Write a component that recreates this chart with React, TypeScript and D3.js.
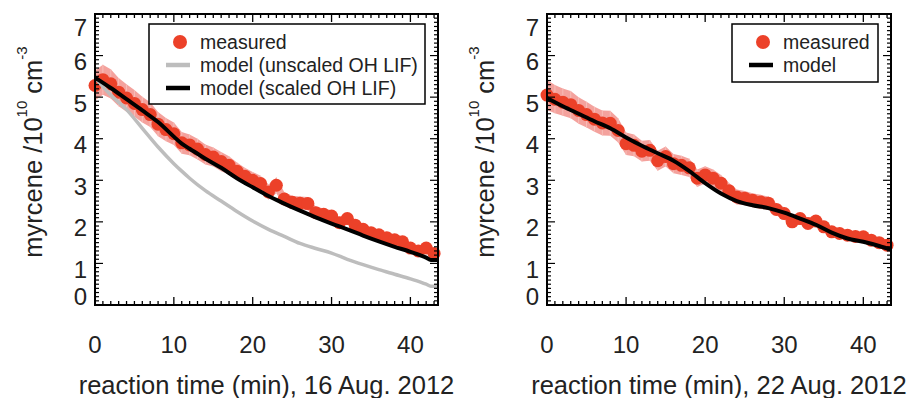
import React from "react";
import * as d3 from "d3";

// ---------- data ----------
const X_TICKS = [0, 10, 20, 30, 40];
const Y_TICKS = [0, 1, 2, 3, 4, 5, 6, 7];

const aug16MeasuredTime = [0,1,2,3,4,5,6,7,8,9,10,11,12,13,14,15,16,17,18,19,20,21,22,23,24,25,26,27,28,29,30,31,32,33,34,35,36,37,38,39,40,41,42,43];
const aug16MeasuredValue = [5.28,5.42,5.32,5.12,4.98,4.85,4.7,4.58,4.35,4.22,4.12,3.9,3.85,3.75,3.62,3.56,3.45,3.36,3.22,3.1,3.0,2.92,2.72,2.88,2.55,2.47,2.45,2.44,2.22,2.18,2.14,1.98,2.08,1.92,1.82,1.74,1.69,1.62,1.57,1.52,1.37,1.3,1.37,1.24];
const aug16MeasuredErr = [0.36,0.36,0.35,0.34,0.33,0.32,0.31,0.3,0.29,0.28,0.27,0.26,0.25,0.25,0.24,0.23,0.23,0.22,0.21,0.2,0.2,0.19,0.18,0.19,0.17,0.16,0.16,0.16,0.15,0.14,0.14,0.13,0.14,0.13,0.12,0.11,0.11,0.11,0.1,0.1,0.09,0.09,0.09,0.08];

const aug16ModelTime = [0,2,4,6,8,10,11,12,14,16,18,20,22,24,26,28,30,32,34,36,38,40,42,42.6,43.5];
const aug16ModelScaled = [5.47,5.22,4.95,4.68,4.4,4.05,3.88,3.76,3.52,3.3,3.05,2.83,2.62,2.44,2.27,2.11,1.96,1.82,1.67,1.53,1.4,1.28,1.14,1.08,1.08];
const aug16ModelUnscaled = [5.47,5.05,4.7,4.25,3.8,3.4,3.22,3.05,2.75,2.5,2.25,2.02,1.82,1.65,1.48,1.36,1.25,1.1,0.97,0.85,0.74,0.63,0.5,0.45,0.45];

const aug22MeasuredTime = [0,1,2,3,4,5,6,7,8,9,10,11,12,13,14,15,16,17,18,19,20,21,22,23,24,25,26,27,28,29,30,31,32,33,34,35,36,37,38,39,40,41,42,43];
const aug22MeasuredValue = [5.05,4.95,4.88,4.82,4.68,4.58,4.47,4.38,4.37,4.2,3.88,3.84,3.7,3.72,3.47,3.57,3.4,3.36,3.3,3.05,3.13,3.05,2.93,2.75,2.6,2.57,2.52,2.48,2.45,2.3,2.2,2.0,2.08,1.96,2.02,1.88,1.76,1.72,1.68,1.65,1.64,1.56,1.5,1.44];
const aug22MeasuredErr = [0.36,0.34,0.33,0.33,0.32,0.31,0.3,0.3,0.3,0.29,0.27,0.26,0.25,0.25,0.24,0.24,0.23,0.23,0.22,0.21,0.21,0.21,0.2,0.19,0.18,0.17,0.17,0.17,0.16,0.15,0.15,0.14,0.14,0.13,0.14,0.13,0.12,0.12,0.11,0.11,0.11,0.1,0.1,0.1];

const aug22ModelTime = [0,2,4,6,8,10,12,14,16,18,20,22,24,26,28,30,32,34,36,38,40,42,43.5];
const aug22Model = [4.98,4.78,4.6,4.42,4.25,4.03,3.83,3.65,3.47,3.22,2.93,2.68,2.5,2.4,2.33,2.22,2.08,1.93,1.74,1.6,1.52,1.42,1.33];

const LEFT_TITLE = "reaction time (min), 16 Aug. 2012";
const RIGHT_TITLE = "reaction time (min), 22 Aug. 2012";

// ---------- styles ----------
const FONT = "'Liberation Sans', Arial, Helvetica, sans-serif";
const RED = "#ec4129";
const BAND = "#f4a29d";
const GREY = "#bdbdbd";

type LegendItem = { label: string; kind: "dot" | "line"; color: string };

type PanelProps = {
  left: number;
  right: number;
  title: string;
  mTime: number[];
  mValue: number[];
  mErr: number[];
  models: { time: number[]; value: number[]; color: string; width: number }[];
  legend: LegendItem[];
  legendBox: { x: number; y: number; w: number; h: number };
};

const TOP = 14;
const BOTTOM = 305;

function Panel(p: PanelProps) {
  const x = d3.scaleLinear().domain([0, 43.5]).range([p.left, p.right]);
  const y = d3.scaleLinear().domain([0, 7]).range([BOTTOM, TOP]);

  const pts = p.mTime.map((t, i) => ({ t, v: p.mValue[i], e: p.mErr[i] }));
  const area = d3
    .area<{ t: number; v: number; e: number }>()
    .x((d) => x(d.t))
    .y0((d) => y(d.v - d.e))
    .y1((d) => y(d.v + d.e));
  const line = d3
    .line<[number, number]>()
    .x((d) => x(d[0]))
    .y((d) => y(d[1]))
    .curve(d3.curveMonotoneX);

  const xMinor = d3.range(0, 43.5, 1);
  const yMinor = d3.range(0, 70, 1).map((k) => k / 10);

  const labelY = (v: number) => {
    const yy = y(v) + 6;
    return Math.max(TOP + 13, Math.min(BOTTOM - 9, yy));
  };

  const cx = (p.left + p.right) / 2;

  return (
    <g>
      <path d={area(pts) || ""} fill={BAND} stroke="none" />
      {pts.map((d, i) => (
        <line key={"eb" + i} x1={x(d.t)} x2={x(d.t)} y1={y(d.v - d.e)} y2={y(d.v + d.e)} stroke="#f7bdb8" strokeWidth={1} />
      ))}
      {pts.map((d, i) => (
        <circle key={"pt" + i} cx={x(d.t)} cy={y(d.v)} r={6.5} fill={RED} />
      ))}
      {p.models.map((m, k) => (
        <path
          key={"m" + k}
          d={line(m.time.map((t, i) => [t, m.value[i]] as [number, number])) || ""}
          fill="none"
          stroke={m.color}
          strokeWidth={m.width}
          strokeLinejoin="round"
        />
      ))}

      {/* frame */}
      <rect x={p.left} y={TOP} width={p.right - p.left} height={BOTTOM - TOP} fill="none" stroke="#000" strokeWidth={2} />
      {xMinor.map((t) => {
        const major = X_TICKS.includes(t);
        const len = major ? 8 : 4;
        return (
          <g key={"xt" + t}>
            <line x1={x(t)} x2={x(t)} y1={BOTTOM} y2={BOTTOM - len} stroke="#000" strokeWidth={1.3} />
            <line x1={x(t)} x2={x(t)} y1={TOP} y2={TOP + len} stroke="#000" strokeWidth={1.3} />
          </g>
        );
      })}
      {yMinor.map((v, k) => {
        const major = k % 10 === 0;
        const len = major ? 8 : 4;
        return (
          <g key={"yt" + k}>
            <line x1={p.left} x2={p.left + len} y1={y(v)} y2={y(v)} stroke="#000" strokeWidth={1.2} />
            <line x1={p.right} x2={p.right - len} y1={y(v)} y2={y(v)} stroke="#000" strokeWidth={1.2} />
          </g>
        );
      })}
      {X_TICKS.map((t) => (
        <text key={"xl" + t} x={x(t)} y={353} textAnchor="middle" fontSize={24} fontFamily={FONT} fill="#222">
          {t}
        </text>
      ))}
      {Y_TICKS.map((v) => (
        <text
          key={"yl" + v}
          x={p.left - 8}
          y={labelY(v)}
          textAnchor="end"
          dominantBaseline="central"
          fontSize={24}
          fontFamily={FONT}
          fill="#222"
        >
          {v}
        </text>
      ))}
      <text x={cx} y={394} textAnchor="middle" fontSize={25.5} fontFamily={FONT} fill="#222">
        {p.title}
      </text>
      <text
        transform={`translate(${p.left - 53},${152}) rotate(-90)`}
        textAnchor="middle"
        fontSize={25.5}
        fontFamily={FONT}
        fill="#222"
      >
        <tspan>myrcene /10</tspan>
        <tspan fontSize={15} dy={-15}>10</tspan>
        <tspan dy={15}> cm</tspan>
        <tspan fontSize={15} dy={-15}>-3</tspan>
      </text>

      {/* legend */}
      <rect x={p.legendBox.x} y={p.legendBox.y} width={p.legendBox.w} height={p.legendBox.h} fill="#fff" stroke="#000" strokeWidth={1.5} />
      {p.legend.map((it, i) => {
        const ry = p.legendBox.y + 18 + i * 23;
        const sx = p.legendBox.x + 31;
        return (
          <g key={"lg" + i}>
            {it.kind === "dot" ? (
              <circle cx={sx} cy={ry} r={7} fill={it.color} />
            ) : (
              <line x1={sx - 14} x2={sx + 10} y1={ry} y2={ry} stroke={it.color} strokeWidth={4.5} />
            )}
            <text x={sx + 20} y={ry} dominantBaseline="central" fontSize={19.5} fontFamily={FONT} fill="#222">
              {it.label}
            </text>
          </g>
        );
      })}
    </g>
  );
}

export default function App() {
  return (
    <svg width={921} height={398} style={{ position: "absolute", left: 0, top: 0, background: "#fff" }}>
      <rect x={0} y={0} width={921} height={398} fill="#fff" />
      <Panel
        left={95}
        right={438}
        title={LEFT_TITLE}
        mTime={aug16MeasuredTime}
        mValue={aug16MeasuredValue}
        mErr={aug16MeasuredErr}
        models={[
          { time: aug16ModelTime, value: aug16ModelUnscaled, color: GREY, width: 3.5 },
          { time: aug16ModelTime, value: aug16ModelScaled, color: "#000", width: 4 },
        ]}
        legend={[
          { label: "measured", kind: "dot", color: RED },
          { label: "model (unscaled OH LIF)", kind: "line", color: GREY },
          { label: "model (scaled OH LIF)", kind: "line", color: "#000" },
        ]}
        legendBox={{ x: 149, y: 24, w: 276, h: 80 }}
      />
      <Panel
        left={547}
        right={891}
        title={RIGHT_TITLE}
        mTime={aug22MeasuredTime}
        mValue={aug22MeasuredValue}
        mErr={aug22MeasuredErr}
        models={[{ time: aug22ModelTime, value: aug22Model, color: "#000", width: 4 }]}
        legend={[
          { label: "measured", kind: "dot", color: RED },
          { label: "model", kind: "line", color: "#000" },
        ]}
        legendBox={{ x: 732, y: 24, w: 146, h: 58 }}
      />
    </svg>
  );
}
